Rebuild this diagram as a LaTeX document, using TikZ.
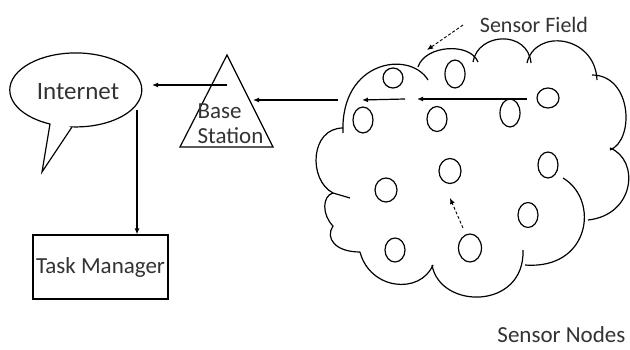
\documentclass[tikz,border=0pt]{standalone}
\usepackage{fontspec}
\setmainfont{Carlito}
\usetikzlibrary{arrows.meta,shapes.geometric}
\begin{document}
\begin{tikzpicture}[x=1pt,y=1pt,line width=1.2pt,
  sensor/.style={draw, ellipse, minimum width=20pt, minimum height=25pt, inner sep=0pt},
  arr/.style={-{Latex[length=6pt,width=5pt]}},
  darr/.style={densely dashed,line width=0.9pt,-{Latex[length=6pt,width=5pt]}},
  lbl/.style={text=black!80, font=\fontsize{23}{25}\selectfont, inner sep=0pt},
  cloudline/.style={line width=1.2pt}]
\useasboundingbox (0,0) rectangle (630,349);

% Internet speech bubble
\draw (72,222) -- (42,177) -- (50,225) arc[start angle=247, end angle=-93.5, x radius=66, y radius=37] -- cycle;
\node[lbl, font=\fontsize{25}{27}\selectfont] (internet) at (78,257) {Internet};
\coordinate (inR) at (152,264);
\coordinate (inD) at (137,239);

% Base station
\coordinate (bsTop) at (227,294);
\coordinate (bsL) at (180,202);
\coordinate (bsR) at (273,202);
\draw (bsTop) -- (bsL) -- (bsR) -- cycle;
\node[lbl, align=left, anchor=west] (bs) at (197,225.5) {Base\\Station};
\coordinate (bsOut) at (227,264);
\coordinate (bsIn) at (253,249);

% Task manager
\node[lbl, draw=black, minimum width=135pt, minimum height=64pt] (task) at (100.5,82) {Task Manager};

% Cloud (sensor field)
\draw[cloudline] (343,216) .. controls (340,289) and (410,299) .. (428,269);
\draw[cloudline] (418,282) .. controls (425,304) and (470,307) .. (478,287);
\draw[cloudline] (473,287) .. controls (478,317) and (528,319) .. (531,286);
\draw[cloudline] (527,286) .. controls (535,321) and (595,314) .. (597,269);
\draw[cloudline] (592,274) .. controls (632,274) and (635,209) .. (610,199);
\draw[cloudline] (610,201) .. controls (640,189) and (635,134) .. (588,129);
\draw[cloudline] (563,171) .. controls (600,149) and (590,79) .. (525,84);
\draw[cloudline] (523,99) .. controls (525,39) and (440,39) .. (432,84);
\draw[cloudline] (433,84) .. controls (420,54) and (370,59) .. (360,97);
\draw[cloudline] (360,97) .. controls (335,97) and (325,111) .. (333,123) .. controls (322,134) and (322,153) .. (333,156) -- (350,151);
\draw[cloudline] (333,156) .. controls (308,169) and (310,221) .. (343,221);

% Sensor nodes
\node[sensor, minimum height=20pt] (s1) at (393,271) {};
\node[sensor, minimum height=28pt] (s2) at (455,275) {};
\node[sensor, minimum width=22pt, minimum height=20pt] (s3) at (548,251) {};
\node[sensor, minimum height=26pt] (s4) at (363,229) {};
\node[sensor] (s5) at (437,230) {};
\node[sensor, minimum height=28pt] (s6) at (510,236) {};
\node[sensor, minimum width=22pt, minimum height=24pt] (s7) at (386,159) {};
\node[sensor, minimum width=22pt] (s8) at (450,178) {};
\node[sensor, minimum height=26pt] (s9) at (548,184) {};
\node[sensor] (s10) at (528,134) {};
\node[sensor, minimum height=24pt] (s11) at (395,99) {};
\node[sensor, minimum width=23pt, minimum height=28pt] (s12) at (470,101) {};

% arrows inside cloud
\coordinate (c1) at (527,250);
\coordinate (c2) at (417,250);
\coordinate (c3) at (405,250);
\coordinate (c4) at (362,249);
\coordinate (c5) at (338,249);
\draw[arr] (c1) -- (c2);
\draw[arr] (c3) -- (c4);
\draw[arr] (c5) -- (bsIn);
\draw[arr] (bsOut) -- (inR);
\draw[arr] (inD) -- (task.north -| inD);

% dashed arrows
\coordinate (d1) at (463,121);
\coordinate (d2) at (450,151);
\draw[darr] (d1) -- (d2);
\node[lbl, font=\fontsize{22}{24}\selectfont] (sf) at (534,324) {Sensor Field};
\coordinate (f1) at (463,324);
\coordinate (f2) at (427,299);
\draw[darr] (f1) -- (f2);
\node[lbl, anchor=base east] (sn) at (626,7) {Sensor Nodes};
\end{tikzpicture}
\end{document}
